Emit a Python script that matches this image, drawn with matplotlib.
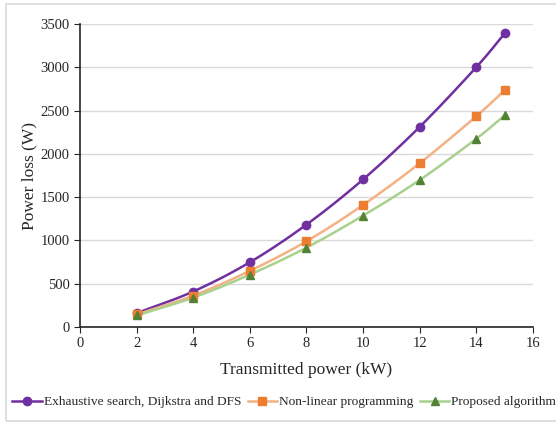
import matplotlib.pyplot as plt
import numpy as np
from matplotlib.patches import Rectangle

power_kw = [2, 4, 6, 8, 10, 12, 14, 15]
loss_exhaustive = [160, 410, 748, 1183, 1705, 2312, 3002, 3392]
loss_nonlinear = [145, 362, 648, 990, 1410, 1892, 2435, 2735]
loss_proposed = [133, 340, 605, 917, 1287, 1698, 2175, 2445]

labels = ["Exhaustive search, Dijkstra and DFS", "Non-linear programming", "Proposed algorithm"]


def smooth(x, y, n=20):
    # Catmull-Rom style smoothing, like Excel's smoothed lines
    x = np.asarray(x, float)
    y = np.asarray(y, float)
    px = np.concatenate([[2 * x[0] - x[1]], x, [2 * x[-1] - x[-2]]])
    py = np.concatenate([[2 * y[0] - y[1]], y, [2 * y[-1] - y[-2]]])
    xs, ys = [], []
    t = np.linspace(0, 1, n)
    for i in range(1, len(px) - 2):
        for p, out in ((px, xs), (py, ys)):
            p0, p1, p2, p3 = p[i - 1], p[i], p[i + 1], p[i + 2]
            out.extend(0.5 * ((2 * p1) + (-p0 + p2) * t
                              + (2 * p0 - 5 * p1 + 4 * p2 - p3) * t ** 2
                              + (-p0 + 3 * p1 - 3 * p2 + p3) * t ** 3))
    return np.array(xs), np.array(ys)


plt.rcParams["font.family"] = ["Liberation Serif", "DejaVu Serif"]

fig = plt.figure(figsize=(5.56, 4.25), dpi=100)
ax = fig.add_axes([0.1439, 0.2306, 0.8147, 0.7129])

series = [
    (loss_exhaustive, "#7030A0", "#7030A0", "o"),
    (loss_nonlinear, "#F4B183", "#ED7D31", "s"),
    (loss_proposed, "#A9D18E", "#548235", "^"),
]
handles = []
for (vals, lc, mc, mk), lab in zip(series, labels):
    sx, sy = smooth(power_kw, vals)
    ax.plot(sx, sy, color=lc, lw=1.8, zorder=3)
    ax.plot(power_kw, vals, linestyle="none", marker=mk, color=mc, ms=6, zorder=4)
    h, = ax.plot([], [], color=lc, lw=1.8, marker=mk, mfc=mc, mec=mc, ms=6, label=lab)
    handles.append(h)

ax.set_xlim(0, 16)
ax.set_ylim(0, 3500)
ax.set_xticks(np.arange(0, 17, 2))
ax.set_yticks(np.arange(0, 3501, 500))
ax.grid(axis="y", color="#D9D9D9", lw=1)
ax.set_axisbelow(True)
for s in ["top", "right"]:
    ax.spines[s].set_visible(False)
for s in ["left", "bottom"]:
    ax.spines[s].set_color("#262626")
    ax.spines[s].set_linewidth(1.2)
ax.tick_params(axis="both", direction="out", length=4, color="#262626",
               labelsize=10.5, labelcolor="#262626")
ax.set_xlabel("Transmitted power (kW)", fontsize=12.5, color="#262626", labelpad=8)
ax.set_ylabel("Power loss (W)", fontsize=12.5, color="#262626", labelpad=2)

fig.legend(handles=handles, loc="center left", bbox_to_anchor=(0.022, 0.054),
           ncol=3, frameon=False, fontsize=9.6, handlelength=2.2,
           handletextpad=0.15, columnspacing=0.5, labelcolor="#262626",
           borderaxespad=0, borderpad=0)

fig.patches.append(Rectangle((6 / 556, 4 / 425), 1.0, 417 / 425, transform=fig.transFigure,
                             fill=False, edgecolor="#D9D9D9", lw=1.2))

fig.savefig("out.png", dpi=100)
